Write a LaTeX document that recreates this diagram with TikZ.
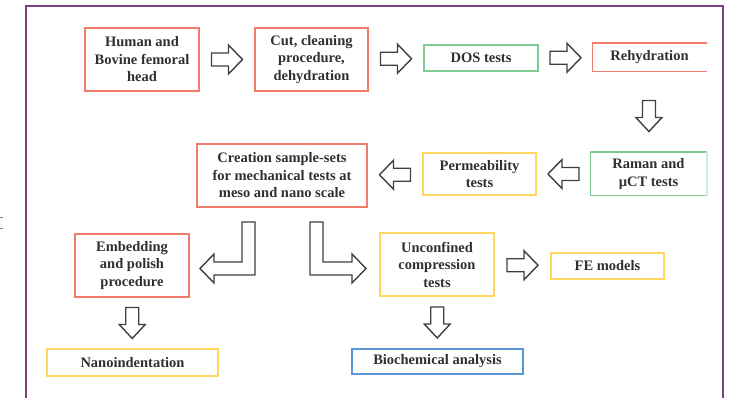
\documentclass[tikz,border=0pt]{standalone}
\usepackage{fontspec}
\setmainfont{Liberation Serif}
\usetikzlibrary{calc}
\definecolor{cred}{HTML}{F27C6C}
\definecolor{cgreen}{HTML}{7FC994}
\definecolor{cyellow}{HTML}{FFD760}
\definecolor{cblue}{HTML}{5A95D5}
\definecolor{cpurple}{HTML}{7A4379}
\definecolor{carrow}{HTML}{404040}
\definecolor{ctext}{HTML}{303030}
\tikzset{
  box/.style={line width=1.5pt, inner sep=0pt, align=center, text=ctext,
    font=\fontsize{14.5}{17.5}\selectfont\bfseries},
  wide/.style={minimum width=114pt},
  arr/.style={draw=carrow, line width=1.4pt, line join=miter, fill=white},
  rarr/.pic={\draw[arr] (-15.5,-6.5) -- (1.5,-6.5) -- (1.5,-14.5) -- (15.5,0) -- (1.5,14.5) -- (1.5,6.5) -- (-15.5,6.5) -- cycle;},
  larr/.pic={\draw[arr] (15.5,-6.5) -- (-1.5,-6.5) -- (-1.5,-14.5) -- (-15.5,0) -- (-1.5,14.5) -- (-1.5,6.5) -- (15.5,6.5) -- cycle;},
  darr/.pic={\draw[arr] (-6.5,-15.5) -- (-6.5,1.5) -- (-13,1.5) -- (0,15.5) -- (13,1.5) -- (6.5,1.5) -- (6.5,-15.5) -- cycle;}
}
\begin{document}
\begin{tikzpicture}[x=1pt,y=-1pt]
\useasboundingbox (0,0) rectangle (732,398);
% frame
\draw[cpurple, line width=1.8pt] (26,398) -- (26,6) -- (723,6) -- (723,398);
\draw[gray, line width=0.7pt] (0,217) -- (3,217) (0,228) -- (3,228);
% boxes
\node[box, draw=cred, minimum width=114pt, minimum height=63pt] (hum) at (142,59.5) {Human and\\Bovine femoral\\head};
\node[box, draw=cred, minimum width=113pt, minimum height=63pt] (cut) at (311.5,59.5) {Cut, cleaning\\procedure,\\dehydration};
\node[box, draw=cgreen, minimum width=114pt, minimum height=26pt] (dos) at (481,58) {DOS tests};
\node[box, minimum width=113pt, minimum height=27pt] (reh) at (649.5,57.5) {Rehydration};
\draw[cred, line width=1.5pt] (reh.north east) -- (reh.north west) -- (reh.south west) -- (reh.south east);
\node[box, minimum width=115pt, minimum height=42pt] (ram) at (648.5,174) {Raman and\\µCT tests};
\draw[cgreen, line width=1.5pt] (ram.north east) -- (ram.north west) -- (ram.south west) -- (ram.south east);
\draw[cgreen!35, line width=1.5pt] (ram.north east) -- (ram.south east);
\node[box, draw=cyellow, minimum width=113pt, minimum height=42pt] (per) at (479.5,174) {Permeability\\tests};
\node[box, draw=cred, minimum width=170pt, minimum height=63pt] (cre) at (282,175.5) {Creation sample-sets\\for mechanical tests at\\meso and nano scale};
\node[box, draw=cred, minimum width=114pt, minimum height=63pt] (emb) at (132,265.5) {Embedding\\and polish\\procedure};
\node[box, draw=cyellow, minimum width=171pt, minimum height=27pt] (nan) at (132.5,362.5) {Nanoindentation};
\node[box, draw=cyellow, minimum width=114pt, minimum height=63pt] (unc) at (437,264.5) {Unconfined\\compression\\tests};
\node[box, draw=cyellow, minimum width=113pt, minimum height=26pt] (fem) at (607.5,266) {FE models};
\node[box, draw=cblue, minimum width=171pt, minimum height=25pt] (bio) at (437.5,361.5) {Biochemical analysis};
% block arrows
\pic at ($(hum.east)!.5!(cut.west)$) {rarr};
\pic at ($(cut.east)!.5!(dos.west)$) {rarr};
\pic at ($(dos.east)!.5!(reh.west)$) {rarr};
\pic at ($(reh.south)!.55!(ram.north)$) {darr};
\pic at ($(ram.west)!.5!(per.east)$) {larr};
\pic at ($(per.west)!.5!(cre.east)$) {larr};
\pic at ($(emb.south)!.5!(nan.north)$) {darr};
\pic at ($(unc.east)!.5!(fem.west)$) {rarr};
\pic at ($(unc.south)!.5!(bio.north)$) {darr};
% L arrows
\draw[arr] (242,222) -- (255,222) -- (255,275) -- (214,275) -- (214,283) -- (200,268.5) -- (214,254) -- (214,262) -- (242,262) -- cycle;
\draw[arr] (310,222) -- (323,222) -- (323,262) -- (352,262) -- (352,254) -- (366,268.5) -- (352,283) -- (352,275) -- (310,275) -- cycle;
\end{tikzpicture}
\end{document}
